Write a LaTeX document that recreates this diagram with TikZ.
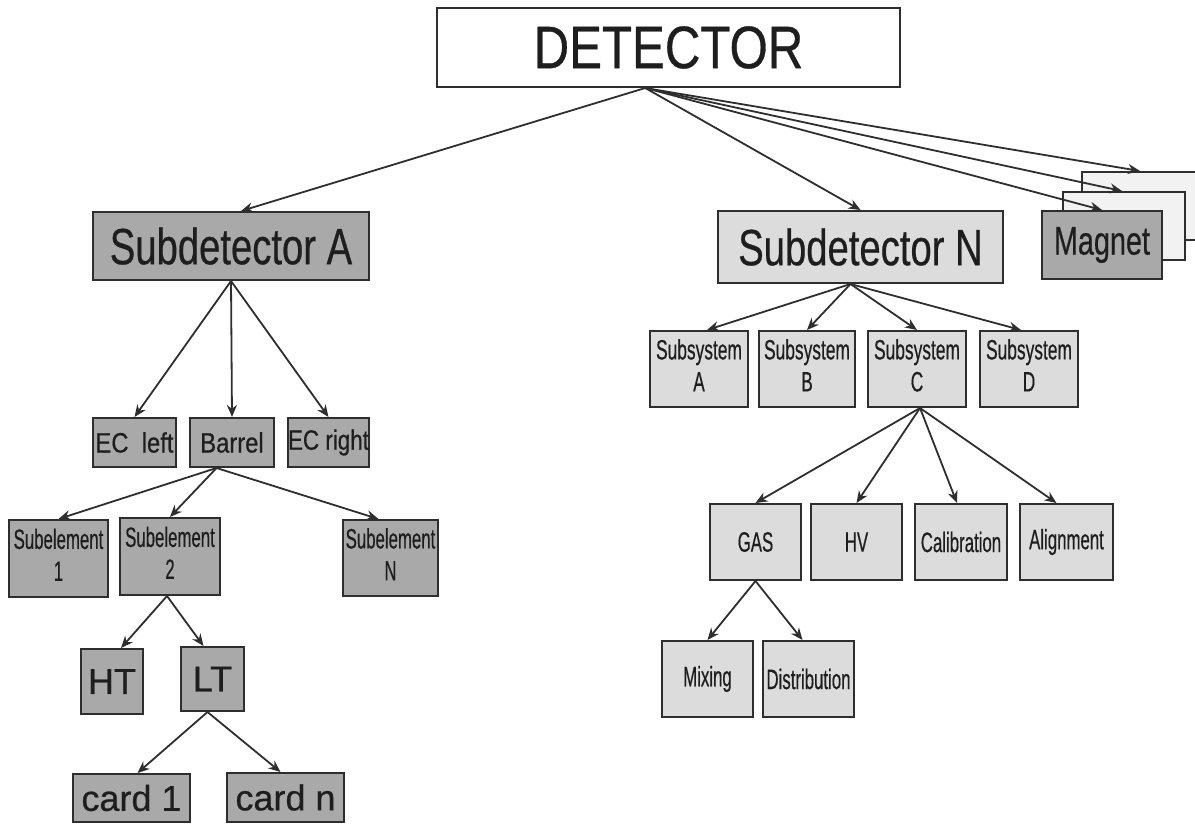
\documentclass[tikz,border=0pt]{standalone}
\usepackage{fontspec}
\setmainfont[FakeBold=0.6]{Liberation Sans}
\usepackage{graphicx}
\usetikzlibrary{arrows.meta,calc}
\definecolor{dk}{HTML}{A9A9A9}
\definecolor{lt}{HTML}{DCDCDC}
\definecolor{pale}{HTML}{F2F2F2}
\definecolor{edge}{HTML}{2E2E2E}
\definecolor{ink}{HTML}{1E1E1E}
\newcommand{\narrowtext}[2]{\scalebox{#1}[1]{#2}}
\newcommand{\twoline}[3]{\scalebox{#1}[1]{\begin{tabular}{@{}c@{}}#2\\#3\end{tabular}}}
\tikzset{
  box/.style={draw=edge, line width=2pt, inner sep=0pt, text=ink, align=center},
  dkbox/.style={box, fill=dk},
  ltbox/.style={box, fill=lt},
  plbox/.style={box, fill=pale},
  wh/.style={box, fill=white},
  big/.style={font=\fontsize{60}{66}\selectfont},
  mid/.style={font=\fontsize{51}{56}\selectfont},
  med/.style={font=\fontsize{36}{40}\selectfont},
  ecf/.style={font=\fontsize{28}{31}\selectfont},
  sm/.style={font=\fontsize{28}{32}\selectfont},
  conn/.style={draw=edge, line width=1.8pt, -{Stealth[length=12pt,width=10pt]}}
}
\begin{document}
\begin{tikzpicture}[x=1pt,y=-1pt]
\useasboundingbox (0,0) rectangle (1195,823);
\clip (0,0) rectangle (1195,823);
% top
\node[wh, big, minimum width=463pt, minimum height=79pt] (det) at (668.5,47.5) {\narrowtext{0.82}{DETECTOR}};
% level 1
\node[dkbox, mid, minimum width=276pt, minimum height=68pt] (subA) at (231,246) {\narrowtext{0.75}{Subdetector A}};
\node[ltbox, mid, minimum width=285pt, minimum height=72pt] (subN) at (860.5,247) {\narrowtext{0.75}{Subdetector N}};
\node[plbox, minimum width=128pt, minimum height=68pt] (mag3) at (1146,206) {};
\node[plbox, minimum width=122pt, minimum height=68pt] (mag2) at (1124,226) {};
\node[dkbox, font=\fontsize{40}{44}\selectfont, minimum width=120pt, minimum height=68pt] (mag1) at (1102,245) {\narrowtext{0.72}{Magnet}};
% subdetector A children
\node[dkbox, ecf, minimum width=83pt, minimum height=49pt] (ecl) at (134.5,442.5) {\narrowtext{0.85}{EC\ \ left}};
\node[dkbox, ecf, minimum width=84pt, minimum height=49pt] (bar) at (232,442.5) {\narrowtext{0.85}{Barrel}};
\node[dkbox, ecf, minimum width=81pt, minimum height=49pt] (ecr) at (328.5,442.5) {\narrowtext{0.8}{EC right}};
\node[dkbox, sm, minimum width=99pt, minimum height=77pt] (se1) at (58.5,558.5) {\twoline{0.6}{Subelement}{1}};
\node[dkbox, sm, minimum width=100pt, minimum height=77pt] (se2) at (170,556.5) {\twoline{0.6}{Subelement}{2}};
\node[dkbox, sm, minimum width=95pt, minimum height=76pt] (seN) at (390.5,558) {\twoline{0.6}{Subelement}{N}};
\node[dkbox, med, minimum width=62pt, minimum height=65pt] (ht) at (112,681.5) {HT};
\node[dkbox, med, minimum width=63pt, minimum height=64pt] (lt) at (212.5,679) {LT};
\node[dkbox, med, minimum width=117pt, minimum height=48pt, anchor=north] (c1) at (131.5,773) {card\ 1};
\node[dkbox, med, minimum width=117pt, minimum height=49pt, anchor=north] (cn) at (285.5,772) {card n};
% subdetector N children
\node[ltbox, sm, minimum width=98pt, minimum height=76pt] (ssA) at (699,369) {\twoline{0.62}{Subsystem}{A}};
\node[ltbox, sm, minimum width=96pt, minimum height=76pt] (ssB) at (807,369) {\twoline{0.62}{Subsystem}{B}};
\node[ltbox, sm, minimum width=98pt, minimum height=76pt] (ssC) at (917,369) {\twoline{0.62}{Subsystem}{C}};
\node[ltbox, sm, minimum width=98pt, minimum height=76pt] (ssD) at (1029,369) {\twoline{0.62}{Subsystem}{D}};
\node[ltbox, sm, minimum width=91pt, minimum height=76pt] (gas) at (755.5,542) {\narrowtext{0.6}{GAS}};
\node[ltbox, sm, minimum width=91pt, minimum height=76pt] (hv) at (856.5,542) {\narrowtext{0.6}{HV}};
\node[ltbox, sm, minimum width=92pt, minimum height=76pt] (cal) at (961,542) {\narrowtext{0.6}{Calibration}};
\node[ltbox, sm, minimum width=93pt, minimum height=76pt] (ali) at (1066.5,542) {\narrowtext{0.6}{Alignment}};
\node[ltbox, sm, minimum width=91pt, minimum height=76pt] (mix) at (707.5,679) {\narrowtext{0.6}{Mixing}};
\node[ltbox, sm, minimum width=91pt, minimum height=76pt] (dis) at (808.5,679) {\narrowtext{0.6}{Distribution}};
% connectors
\coordinate (detS) at ($(det.south west)!0.45!(det.south east)$);
\draw[conn] (detS) -- ($(subA.north)+(10,0)$);
\draw[conn] (detS) -- (subN.north);
\draw[conn] (detS) -- ($(mag3.north)+(-6,0)$);
\draw[conn] (detS) -- ($(mag2.north)+(-2,0)$);
\draw[conn] (detS) -- (mag1.north);
\coordinate (subAS) at (subA.south);
\draw[conn] (subAS) -- (ecl.north);
\draw[conn] (subAS) -- (bar.north);
\draw[conn] (subAS) -- (ecr.north);
\coordinate (barS) at ($(bar.south west)!0.32!(bar.south east)$);
\draw[conn] (barS) -- (se1.north);
\draw[conn] (barS) -- (se2.north);
\draw[conn] (barS) -- ($(seN.north)+(-12,0)$);
\coordinate (se2S) at ($(se2.south)+(-3,0)$);
\draw[conn] (se2S) -- ($(ht.north)+(9,0)$);
\draw[conn] (se2S) -- ($(lt.north)+(-9,0)$);
\coordinate (ltS) at ($(lt.south)+(-5,0)$);
\draw[conn] (ltS) -- ($(c1.north)+(6,0)$);
\draw[conn] (ltS) -- ($(cn.north)+(-5,0)$);
\coordinate (subNS) at ($(subN.south)+(-10,0)$);
\draw[conn] (subNS) -- ($(ssA.north)+(8,0)$);
\draw[conn] (subNS) -- (ssB.north);
\draw[conn] (subNS) -- (ssC.north);
\draw[conn] (subNS) -- ($(ssD.north)+(-8,0)$);
\coordinate (ssCS) at ($(ssC.south)+(3,0)$);
\draw[conn] (ssCS) -- (gas.north);
\draw[conn] (ssCS) -- (hv.north);
\draw[conn] (ssCS) -- ($(cal.north)+(-4,0)$);
\draw[conn] (ssCS) -- ($(ali.north)+(-10,0)$);
\coordinate (gasS) at (gas.south);
\draw[conn] (gasS) -- (mix.north);
\draw[conn] (gasS) -- ($(dis.north)+(-6,0)$);
\end{tikzpicture}
\end{document}
